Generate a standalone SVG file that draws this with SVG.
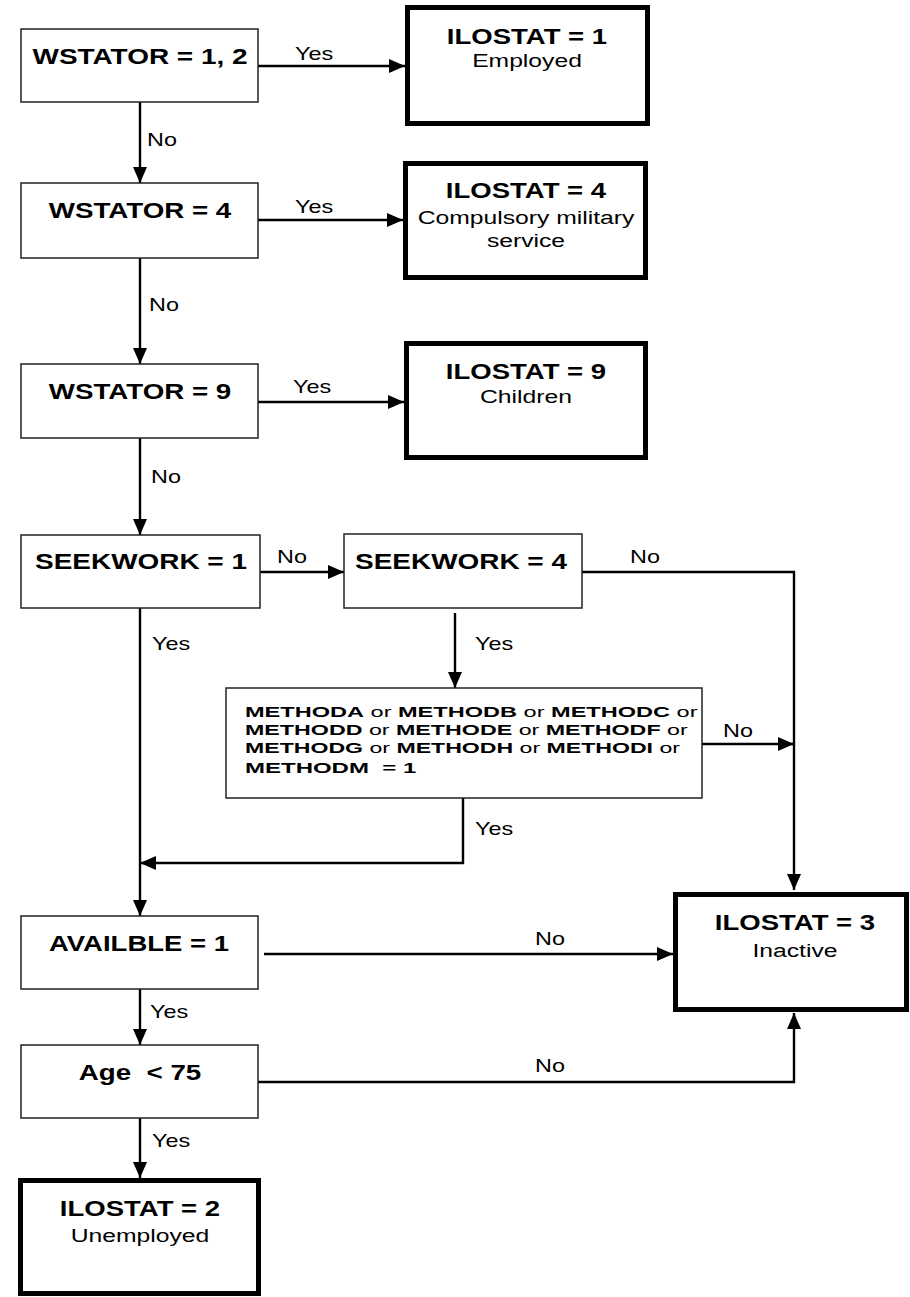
<svg xmlns="http://www.w3.org/2000/svg" width="910" height="1297" viewBox="0 0 910 1297">
<defs>
<marker id="ah" markerUnits="userSpaceOnUse" markerWidth="17" markerHeight="14" refX="16" refY="7" orient="auto"><path d="M0,0 L16,7 L0,14 z" fill="#000"/></marker>
<style>
.dec{fill:#fff;stroke:#222;stroke-width:1.5}
.res{fill:#fff;stroke:#000;stroke-width:5}
.ca{fill:none;stroke:#000;stroke-width:2.4;marker-end:url(#ah)}
text{font-family:"Liberation Sans",Arial,sans-serif;fill:#000}
.b{font-weight:bold;font-size:21.5px;text-anchor:middle}
.r{font-size:19px;text-anchor:middle}
.l{font-size:18px}
.m{font-size:15px}
.mb{font-weight:bold}
</style>
</defs>
<rect width="910" height="1297" fill="#fff"/>
<g id="connectors">
<path class="ca" d="M258,66 H405"/>
<path class="ca" d="M140,102 V183"/>
<path class="ca" d="M258,220 H403"/>
<path class="ca" d="M140,258 V364"/>
<path class="ca" d="M258,402 H404"/>
<path class="ca" d="M140,438 V535"/>
<path class="ca" d="M260,572 H344"/>
<path class="ca" d="M582,572 H794 V890"/>
<path class="ca" d="M455,613 V688"/>
<path class="ca" d="M702,744 H794"/>
<path class="ca" d="M463,798 V863 H140"/>
<path class="ca" d="M140,608 V916"/>
<path class="ca" d="M264,954 H673"/>
<path class="ca" d="M140,989 V1045"/>
<path class="ca" d="M258,1082 H794 V1013"/>
<path class="ca" d="M140,1118 V1178"/>
<text class="l" transform="matrix(1.3 0 0 1 295 60)">Yes</text>
<text class="l" transform="matrix(1.3 0 0 1 147 146)">No</text>
<text class="l" transform="matrix(1.3 0 0 1 295 213)">Yes</text>
<text class="l" transform="matrix(1.3 0 0 1 149 311)">No</text>
<text class="l" transform="matrix(1.3 0 0 1 293 393)">Yes</text>
<text class="l" transform="matrix(1.3 0 0 1 151 483)">No</text>
<text class="l" transform="matrix(1.3 0 0 1 277 563)">No</text>
<text class="l" transform="matrix(1.3 0 0 1 630 563)">No</text>
<text class="l" transform="matrix(1.3 0 0 1 475 650)">Yes</text>
<text class="l" transform="matrix(1.3 0 0 1 152 650)">Yes</text>
<text class="l" transform="matrix(1.3 0 0 1 723 737)">No</text>
<text class="l" transform="matrix(1.3 0 0 1 475 835)">Yes</text>
<text class="l" transform="matrix(1.3 0 0 1 535 945)">No</text>
<text class="l" transform="matrix(1.3 0 0 1 150 1018)">Yes</text>
<text class="l" transform="matrix(1.3 0 0 1 535 1072)">No</text>
<text class="l" transform="matrix(1.3 0 0 1 152 1147)">Yes</text>
</g>
<g id="wstator12">
<rect class="dec" x="21" y="29" width="237" height="73"/>
<text class="b" transform="matrix(1.3 0 0 1 140 64)">WSTATOR = 1, 2</text>
</g>
<g id="ilostat1">
<rect class="res" x="407.5" y="7.5" width="240" height="116"/>
<text class="b" transform="matrix(1.28 0 0 1 527 44)">ILOSTAT = 1</text>
<text class="r" transform="matrix(1.3 0 0 1 527 67)">Employed</text>
</g>
<g id="wstator4">
<rect class="dec" x="21" y="183" width="237" height="75"/>
<text class="b" transform="matrix(1.29 0 0 1 140 218)">WSTATOR = 4</text>
</g>
<g id="ilostat4">
<rect class="res" x="405.5" y="163.5" width="240" height="114"/>
<text class="b" transform="matrix(1.28 0 0 1 526 198)">ILOSTAT = 4</text>
<text class="r" transform="matrix(1.3 0 0 1 526 224)">Compulsory military</text>
<text class="r" transform="matrix(1.3 0 0 1 526 247)">service</text>
</g>
<g id="wstator9">
<rect class="dec" x="21" y="364" width="237" height="74"/>
<text class="b" transform="matrix(1.29 0 0 1 140 399)">WSTATOR = 9</text>
</g>
<g id="ilostat9">
<rect class="res" x="406.5" y="343.5" width="239" height="114"/>
<text class="b" transform="matrix(1.28 0 0 1 526 379)">ILOSTAT = 9</text>
<text class="r" transform="matrix(1.3 0 0 1 526 403)">Children</text>
</g>
<g id="seekwork1">
<rect class="dec" x="21" y="535" width="239" height="73"/>
<text class="b" transform="matrix(1.3 0 0 1 141 569)">SEEKWORK = 1</text>
</g>
<g id="seekwork4">
<rect class="dec" x="344" y="534" width="238" height="74"/>
<text class="b" transform="matrix(1.3 0 0 1 461 569)">SEEKWORK = 4</text>
</g>
<g id="methods">
<rect class="dec" x="226" y="688" width="476" height="110"/>
<text class="m" transform="matrix(1.57 0 0 1 245 717)"><tspan class="mb">METHODA</tspan> or <tspan class="mb">METHODB</tspan> or <tspan class="mb">METHODC</tspan> or</text>
<text class="m" transform="matrix(1.55 0 0 1 245 735)"><tspan class="mb">METHODD</tspan> or <tspan class="mb">METHODE</tspan> or <tspan class="mb">METHODF</tspan> or</text>
<text class="m" transform="matrix(1.54 0 0 1 245 753)"><tspan class="mb">METHODG</tspan> or <tspan class="mb">METHODH</tspan> or <tspan class="mb">METHODI</tspan> or</text>
<text class="m mb" xml:space="preserve" transform="matrix(1.6 0 0 1 245 773)">METHODM  = 1</text>
</g>
<g id="availble">
<rect class="dec" x="21" y="916" width="237" height="73"/>
<text class="b" transform="matrix(1.28 0 0 1 139 951)">AVAILBLE = 1</text>
</g>
<g id="ilostat3">
<rect class="res" x="675.5" y="894.5" width="231" height="115"/>
<text class="b" transform="matrix(1.28 0 0 1 795 930)">ILOSTAT = 3</text>
<text class="r" transform="matrix(1.3 0 0 1 795 957)">Inactive</text>
</g>
<g id="age">
<rect class="dec" x="21" y="1045" width="237" height="73"/>
<text class="b" xml:space="preserve" transform="matrix(1.29 0 0 1 140 1080)">Age  &lt; 75</text>
</g>
<g id="ilostat2">
<rect class="res" x="20.5" y="1180.5" width="238" height="113"/>
<text class="b" transform="matrix(1.28 0 0 1 140 1216)">ILOSTAT = 2</text>
<text class="r" transform="matrix(1.3 0 0 1 140 1242)">Unemployed</text>
</g>
</svg>
